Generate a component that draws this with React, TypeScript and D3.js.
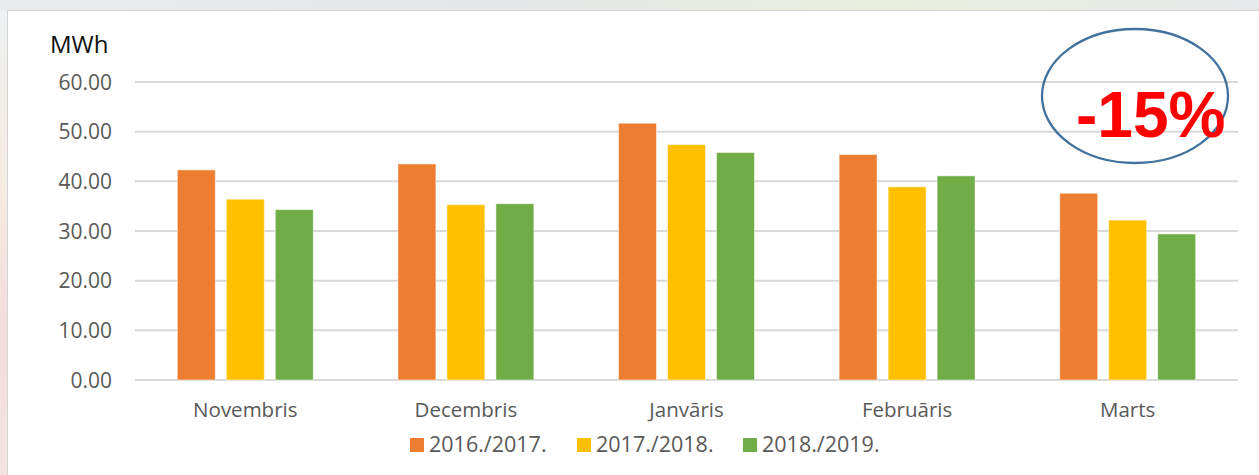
import React from "react";
import * as d3 from "d3";

const categories = ["Novembris", "Decembris", "Janvāris", "Februāris", "Marts"];
const seriesNames = ["2016./2017.", "2017./2018.", "2018./2019."];
const values2016 = [42.3, 43.5, 51.7, 45.4, 37.6];
const values2017 = [36.4, 35.3, 47.4, 38.9, 32.2];
const values2018 = [34.3, 35.5, 45.8, 41.1, 29.4];
const yTicks = [0, 10, 20, 30, 40, 50, 60];
const colors = ["#ED7D31", "#FFC000", "#70AD47"];
const annotation = "-15%";
const unitLabel = "MWh";

const W = 1259;
const H = 475;

export default function App() {
  const series = [values2016, values2017, values2018];
  const y = d3.scaleLinear().domain([0, 60]).range([380, 82]);
  const x0 = d3.scaleBand<string>().domain(categories).range([135, 1238]).paddingInner(0).paddingOuter(0);
  const x1 = d3
    .scaleBand<string>()
    .domain(seriesNames)
    .range([0, x0.bandwidth()])
    .paddingInner(0.225)
    .paddingOuter(0.864);
  const font = "'Open Sans', 'Liberation Sans', sans-serif";
  const legendX = [410, 577, 743];

  return (
    <svg
      width={W}
      height={H}
      style={{ position: "fixed", left: 0, top: 0, display: "block" }}
      xmlns="http://www.w3.org/2000/svg"
    >
      <defs>
        <linearGradient id="bgTop" x1="0" y1="0" x2="1" y2="0">
          <stop offset="0" stopColor="#e9ecef" />
          <stop offset="0.4" stopColor="#e4e7e8" />
          <stop offset="0.7" stopColor="#e9eede" />
          <stop offset="1" stopColor="#e6e9ea" />
        </linearGradient>
        <linearGradient id="bgLeft" x1="0" y1="0" x2="0" y2="1">
          <stop offset="0" stopColor="#eef1f3" />
          <stop offset="0.4" stopColor="#f6ebe0" />
          <stop offset="0.7" stopColor="#f3dcdc" />
          <stop offset="1" stopColor="#f4e4e4" />
        </linearGradient>
      </defs>
      <rect x={0} y={0} width={W} height={H} fill="url(#bgTop)" />
      <rect x={0} y={10} width={8} height={H - 10} fill="url(#bgLeft)" />
      <rect x={7.5} y={10.5} width={W} height={H} fill="#ffffff" stroke="#d4d4d4" strokeWidth={1} />

      {yTicks.map((t) => (
        <g key={t}>
          <line x1={135} x2={1238} y1={y(t)} y2={y(t)} stroke="#d9d9d9" strokeWidth={2} />
          <text x={112} y={y(t) + 7.5} textAnchor="end" fontFamily={font} fontSize={21} fill="#595959">
            {t.toFixed(2)}
          </text>
        </g>
      ))}

      {categories.map((c, i) => (
        <g key={c} transform={`translate(${x0(c)},0)`}>
          {series.map((vals, s) => (
            <rect
              key={s}
              x={x1(seriesNames[s])}
              y={y(vals[i])}
              width={x1.bandwidth()}
              height={y(0) - y(vals[i])}
              fill={colors[s]}
              stroke="#ffffff"
              strokeOpacity={0.5}
              strokeWidth={1}
            />
          ))}
          <text
            x={x0.bandwidth() / 2}
            y={417}
            textAnchor="middle"
            fontFamily={font}
            fontSize={20.5}
            fill="#595959"
          >
            {c}
          </text>
        </g>
      ))}

      {seriesNames.map((n, s) => (
        <g key={n}>
          <rect x={legendX[s]} y={438} width={14} height={14} fill={colors[s]} />
          <text x={legendX[s] + 19} y={452} fontFamily={font} fontSize={21.5} fill="#595959">
            {n}
          </text>
        </g>
      ))}

      <text x={50} y={53} fontFamily={font} fontSize={24} fill="#111111">
        {unitLabel}
      </text>

      <ellipse cx={1135} cy={96} rx={93} ry={67} fill="none" stroke="#41719C" strokeWidth={2.3} />
      <text
        x={1076}
        y={136.5}
        fontFamily="'Liberation Sans', Arial, sans-serif"
        fontWeight="bold"
        fontSize={64}
        fill="#FF0000"
      >
        {annotation}
      </text>
    </svg>
  );
}
